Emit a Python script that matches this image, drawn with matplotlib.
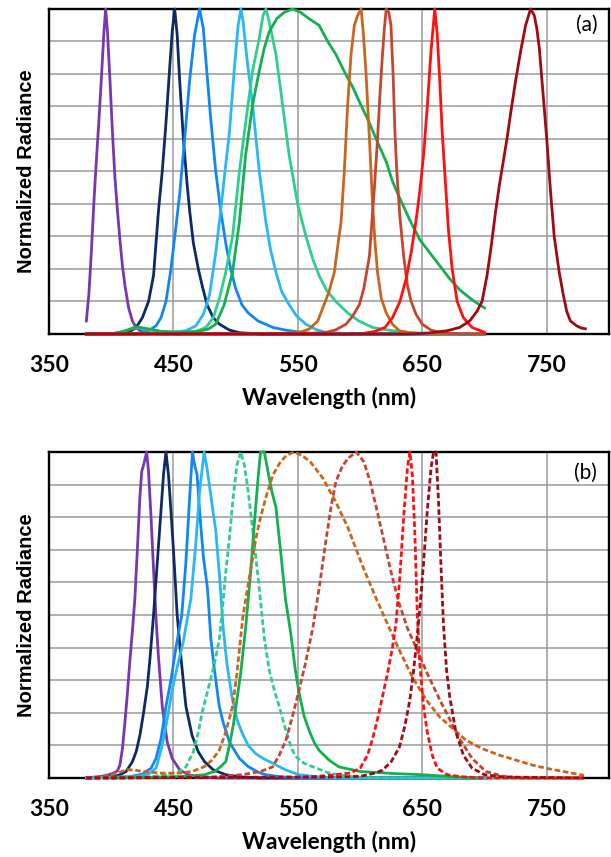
import matplotlib
matplotlib.use("Agg")
import matplotlib.pyplot as plt
import numpy as np

plt.rcParams['font.family'] = ['Lato', 'DejaVu Sans']

# ---------------------------------------------------------
# (a) LED spectra, solid lines  -- wavelength (nm), normalized radiance
# ---------------------------------------------------------
wl_a_violet = [380, 382, 384, 386, 388, 390, 392, 394, 395.5, 397, 399, 401, 403, 405, 407, 409, 411, 414, 417, 420, 424, 430, 440, 700]
r_a_violet = [0.04, 0.12, 0.25, 0.40, 0.53, 0.65, 0.78, 0.92, 1.0, 0.93, 0.78, 0.62, 0.48, 0.38, 0.29, 0.21, 0.15, 0.08, 0.04, 0.02, 0.008, 0.003, 0.0, 0.0]

wl_a_navy = [380, 400, 410, 416, 420, 425, 430, 434, 438, 441, 444, 447, 449, 451, 453, 455, 458, 461, 463, 466, 470, 473, 477, 482, 487, 495, 503, 520, 700]
r_a_navy = [0.0, 0.0, 0.005, 0.01, 0.02, 0.05, 0.1, 0.18, 0.38, 0.5, 0.65, 0.82, 0.93, 1.0, 0.92, 0.78, 0.6, 0.46, 0.38, 0.28, 0.2, 0.15, 0.09, 0.05, 0.03, 0.012, 0.004, 0.0, 0.0]

wl_a_blue = [380, 420, 430, 436, 440, 444, 448, 452, 455, 459, 463, 467, 471, 474, 477, 480, 484, 488, 492, 496, 500, 505, 510, 518, 530, 540, 551, 565, 700]
r_a_blue = [0.0, 0.0, 0.01, 0.025, 0.05, 0.1, 0.2, 0.33, 0.43, 0.6, 0.78, 0.92, 1.0, 0.94, 0.8, 0.66, 0.5, 0.38, 0.28, 0.2, 0.14, 0.09, 0.065, 0.04, 0.02, 0.012, 0.006, 0.0, 0.0]

wl_a_sky = [380, 445, 460, 468, 474, 479, 484, 488, 492, 495, 498.8, 502, 504.2, 506, 509, 513.6, 519, 524.3, 528, 532.4, 537, 543, 549, 556.5, 565, 572.6, 590, 700]
r_a_sky = [0.0, 0.003, 0.01, 0.025, 0.06, 0.12, 0.25, 0.38, 0.52, 0.62, 0.81, 0.95, 1.0, 0.96, 0.85, 0.705, 0.5, 0.345, 0.26, 0.19, 0.13, 0.09, 0.055, 0.03, 0.013, 0.005, 0.0, 0.0]

wl_a_teal = [400, 410, 420, 428, 440, 455, 468, 476, 482, 487, 492, 497.5, 503, 508, 513.6, 519, 522, 524.3, 527, 532.4, 537.7, 543, 549.8, 556.5, 562, 567, 573, 580.5, 590, 599, 610, 626, 645, 670, 700]
r_a_teal = [0.0, 0.008, 0.02, 0.015, 0.007, 0.005, 0.008, 0.02, 0.05, 0.11, 0.19, 0.3, 0.5, 0.65, 0.81, 0.91, 0.98, 1.0, 0.96, 0.86, 0.705, 0.55, 0.4, 0.3, 0.23, 0.18, 0.135, 0.1, 0.065, 0.04, 0.02, 0.01, 0.003, 0.0, 0.0]

wl_a_green = [400, 410, 420, 428, 440, 455, 470, 478, 484, 490.8, 497.5, 503, 508, 513.6, 519, 523, 527, 533, 539, 545.7, 552, 559, 567, 574, 580.6, 587, 594, 600, 607.4, 614, 621, 626, 631.6, 640, 648, 656, 664, 672, 680, 690, 700]
r_a_green = [0.0, 0.008, 0.022, 0.017, 0.008, 0.005, 0.008, 0.015, 0.03, 0.09, 0.19, 0.345, 0.55, 0.705, 0.81, 0.88, 0.93, 0.97, 0.99, 1.0, 0.99, 0.97, 0.95, 0.9, 0.86, 0.81, 0.76, 0.71, 0.65, 0.59, 0.53, 0.47, 0.42, 0.35, 0.29, 0.25, 0.21, 0.17, 0.136, 0.105, 0.08]

wl_a_orange = [380, 540, 552, 559, 566, 571, 575, 579.3, 582, 584.7, 587.3, 590, 592.7, 595.4, 598, 600.8, 602.5, 604.8, 607.5, 610, 612, 614, 617, 621, 626, 631.6, 640, 660, 700]
r_a_orange = [0.0, 0.002, 0.006, 0.015, 0.04, 0.09, 0.13, 0.19, 0.27, 0.345, 0.5, 0.705, 0.86, 0.95, 0.98, 1.0, 0.93, 0.8, 0.6, 0.4, 0.28, 0.19, 0.11, 0.065, 0.03, 0.01, 0.003, 0.0, 0.0]

wl_a_brick = [380, 560, 572.6, 580, 588.7, 594, 599.4, 603, 607.5, 611.5, 614, 616, 618, 619.5, 621, 623, 624.8, 626.5, 628, 629.5, 632, 635, 638, 641, 645, 650, 657, 665, 680, 700]
r_a_brick = [0.0, 0.002, 0.005, 0.012, 0.03, 0.055, 0.09, 0.14, 0.24, 0.45, 0.6, 0.74, 0.86, 0.94, 1.0, 0.99, 0.95, 0.8, 0.62, 0.5, 0.36, 0.24, 0.15, 0.1, 0.06, 0.03, 0.012, 0.004, 0.0, 0.0]

wl_a_red = [380, 600, 612, 620, 626, 632, 637, 641, 645, 648, 651, 654, 657, 660, 662, 664, 666, 668, 671, 674, 678, 683, 690, 700]
r_a_red = [0.0, 0.0, 0.008, 0.02, 0.05, 0.1, 0.17, 0.25, 0.35, 0.44, 0.55, 0.7, 0.87, 1.0, 0.92, 0.78, 0.62, 0.5, 0.32, 0.2, 0.1, 0.05, 0.02, 0.005]

wl_a_deepred = [380, 640, 655, 670, 680, 688, 694, 698, 702, 705, 709, 712, 715, 718, 721, 725, 729, 733, 737, 740, 742, 744, 747, 750, 753, 756, 760, 763, 766, 769, 774, 778, 781]
r_a_deepred = [0.0, 0.0, 0.003, 0.01, 0.02, 0.04, 0.07, 0.1, 0.18, 0.26, 0.38, 0.46, 0.53, 0.6, 0.68, 0.78, 0.87, 0.95, 1.0, 0.98, 0.94, 0.88, 0.74, 0.6, 0.44, 0.3, 0.19, 0.126, 0.07, 0.04, 0.025, 0.018, 0.016]

# ---------------------------------------------------------
# (b) second set: LEDs solid, lamps dashed
# ---------------------------------------------------------
wl_b_violet = [380, 392, 398, 402, 405, 407, 409, 411, 413, 415, 417, 419, 421, 423, 424.5, 426, 428.5, 430, 432, 434, 436, 438, 441, 445, 449, 455, 462, 470, 485, 700]
r_b_violet = [0.0, 0.005, 0.01, 0.015, 0.022, 0.04, 0.09, 0.17, 0.26, 0.36, 0.45, 0.55, 0.7, 0.86, 0.94, 0.96, 1.0, 0.94, 0.8, 0.64, 0.49, 0.37, 0.22, 0.11, 0.06, 0.025, 0.01, 0.004, 0.0, 0.0]

wl_b_navy = [380, 400, 407, 412, 417, 420, 423, 426, 429, 431, 434, 437, 440, 442, 444, 446, 448, 450, 453, 456, 460, 465, 470, 475, 482, 492, 505, 520, 700]
r_b_navy = [0.0, 0.003, 0.01, 0.02, 0.05, 0.08, 0.13, 0.2, 0.28, 0.36, 0.5, 0.66, 0.82, 0.93, 1.0, 0.93, 0.82, 0.7, 0.5, 0.37, 0.22, 0.13, 0.08, 0.05, 0.025, 0.01, 0.003, 0.0, 0.0]

wl_b_blue = [380, 415, 425, 432, 436, 440, 444, 448, 452, 456.7, 460, 463, 465.3, 467, 469, 471, 474, 477.4, 480, 483, 486.8, 490, 495, 503, 510, 518, 524, 535, 550, 700]
r_b_blue = [0.0, 0.004, 0.012, 0.03, 0.06, 0.12, 0.22, 0.3, 0.4, 0.5, 0.66, 0.86, 1.0, 0.96, 0.93, 0.82, 0.68, 0.58, 0.43, 0.33, 0.22, 0.17, 0.11, 0.06, 0.035, 0.018, 0.01, 0.004, 0.0, 0.0]

wl_b_sky = [380, 420, 430, 436, 441, 445, 449, 453, 458, 464, 468, 471, 474.7, 477, 481, 484, 487, 490, 493, 497, 501, 505, 510, 516, 522, 530, 540, 551, 565, 580, 700]
r_b_sky = [0.0, 0.004, 0.012, 0.03, 0.1, 0.18, 0.27, 0.34, 0.42, 0.55, 0.72, 0.88, 1.0, 0.95, 0.84, 0.76, 0.62, 0.46, 0.35, 0.25, 0.18, 0.14, 0.1, 0.075, 0.06, 0.045, 0.025, 0.01, 0.004, 0.0, 0.0]

wl_b_teal = [380, 430, 445, 455, 460, 466, 470, 473, 477, 481, 484, 487, 489.4, 492, 494.8, 498, 501, 504, 507, 510, 512.2, 515, 519, 523, 527, 531, 535, 540, 545, 548.5, 555, 565, 575, 590, 610, 780]
r_b_teal = [0.0, 0.003, 0.01, 0.02, 0.034, 0.08, 0.14, 0.2, 0.26, 0.32, 0.37, 0.43, 0.52, 0.63, 0.73, 0.86, 0.96, 1.0, 0.96, 0.88, 0.81, 0.72, 0.58, 0.43, 0.33, 0.27, 0.22, 0.15, 0.09, 0.065, 0.045, 0.03, 0.015, 0.005, 0.0, 0.0]

wl_b_green = [400, 440, 460, 475, 483, 488, 492, 495, 498, 501, 504, 508, 512, 515, 518, 520, 523, 526, 529, 532.4, 536, 540, 544.4, 548, 551, 555, 559, 563, 567, 575, 583, 600, 625, 650, 670, 693]
r_b_green = [0.0, 0.003, 0.005, 0.01, 0.02, 0.035, 0.05, 0.1, 0.16, 0.24, 0.32, 0.46, 0.63, 0.78, 0.92, 1.0, 1.0, 0.94, 0.88, 0.83, 0.7, 0.55, 0.44, 0.33, 0.26, 0.19, 0.146, 0.11, 0.085, 0.055, 0.034, 0.02, 0.014, 0.01, 0.005, 0.0]

wl_b_amber = [380, 395, 405, 412, 418, 425, 440, 455, 465, 475, 481, 486.8, 492, 497.5, 501, 504, 506, 509.5, 513, 516, 520, 525, 530, 536, 541, 547, 553, 560, 570, 580, 590, 602, 613, 623.5, 633, 642, 653, 664, 675, 685, 698, 712, 725, 739, 752, 766, 780]
r_b_amber = [0.0, 0.005, 0.015, 0.025, 0.025, 0.02, 0.015, 0.015, 0.02, 0.035, 0.055, 0.085, 0.14, 0.22, 0.32, 0.43, 0.5, 0.58, 0.66, 0.73, 0.8, 0.87, 0.93, 0.97, 0.99, 1.0, 0.99, 0.97, 0.92, 0.85, 0.77, 0.65, 0.55, 0.46, 0.38, 0.31, 0.24, 0.187, 0.15, 0.116, 0.09, 0.07, 0.055, 0.039, 0.028, 0.018, 0.008]

wl_b_brick = [380, 480, 505, 520, 529.7, 535, 540.4, 545, 549.7, 556, 562, 567, 572.6, 577, 580.6, 585, 590, 597, 603, 608, 613, 619, 625, 631, 638, 645, 654, 664, 672, 680, 690, 701, 715, 730, 780]
r_b_brick = [0.0, 0.003, 0.01, 0.02, 0.034, 0.07, 0.116, 0.18, 0.25, 0.35, 0.46, 0.58, 0.73, 0.84, 0.91, 0.95, 0.98, 1.0, 0.97, 0.91, 0.83, 0.73, 0.63, 0.54, 0.46, 0.4, 0.32, 0.24, 0.18, 0.12, 0.06, 0.02, 0.005, 0.0, 0.0]

wl_b_red = [380, 560, 580, 592, 600, 606, 610, 614, 618, 622, 626, 629, 632, 635, 638, 640, 642, 644, 646, 648, 651, 654, 658, 662, 670, 680, 700, 780]
r_b_red = [0.0, 0.003, 0.01, 0.015, 0.03, 0.07, 0.12, 0.18, 0.25, 0.32, 0.4, 0.48, 0.62, 0.8, 0.95, 1.0, 0.93, 0.75, 0.5, 0.35, 0.22, 0.14, 0.07, 0.03, 0.01, 0.004, 0.0, 0.0]

wl_b_deepred = [380, 580, 600, 612, 618, 625, 631.6, 636, 640, 643, 646, 648, 651, 654, 657, 659, 661, 663, 665, 667, 669.5, 672, 677, 683, 690, 700, 715, 780]
r_b_deepred = [0.0, 0.003, 0.005, 0.015, 0.024, 0.05, 0.095, 0.16, 0.24, 0.33, 0.44, 0.52, 0.66, 0.82, 0.95, 1.0, 1.0, 0.85, 0.65, 0.47, 0.33, 0.25, 0.14, 0.07, 0.03, 0.01, 0.003, 0.0]

# colours per source
c_violet = '#7a35b0'
c_navy = '#0b2a66'
c_blue = '#1187f5'
c_sky = '#27b8f5'
c_teal = '#2ccf8e'
c_green = '#12b04f'
c_orange = '#c9661c'
c_brick = '#c4462f'
c_red = '#ff1010'
c_deepred = '#a00a10'

series_a = [
    (wl_a_violet, r_a_violet, c_violet, '-'),
    (wl_a_navy, r_a_navy, c_navy, '-'),
    (wl_a_blue, r_a_blue, c_blue, '-'),
    (wl_a_sky, r_a_sky, c_sky, '-'),
    (wl_a_teal, r_a_teal, c_teal, '-'),
    (wl_a_green, r_a_green, c_green, '-'),
    (wl_a_orange, r_a_orange, c_orange, '-'),
    (wl_a_brick, r_a_brick, c_brick, '-'),
    (wl_a_red, r_a_red, c_red, '-'),
    (wl_a_deepred, r_a_deepred, c_deepred, '-'),
]

dash = (0, (2, 1))
series_b = [
    (wl_b_violet, r_b_violet, c_violet, '-'),
    (wl_b_navy, r_b_navy, c_navy, '-'),
    (wl_b_blue, r_b_blue, c_blue, '-'),
    (wl_b_sky, r_b_sky, c_sky, '-'),
    (wl_b_teal, r_b_teal, c_teal, dash),
    (wl_b_green, r_b_green, c_green, '-'),
    (wl_b_amber, r_b_amber, c_orange, dash),
    (wl_b_brick, r_b_brick, c_brick, dash),
    (wl_b_red, r_b_red, c_red, dash),
    (wl_b_deepred, r_b_deepred, c_deepred, dash),
]

fig = plt.figure(figsize=(6.11, 8.57), dpi=100)
ax_a = fig.add_axes([0.0802, 0.6103, 0.9165, 0.3792])
ax_b = fig.add_axes([0.0802, 0.0922, 0.9165, 0.3804])


def style_panel(ax, tag, tag_y):
    ax.set_xlim(350, 800)
    ax.set_ylim(0, 1.0)
    ax.set_xticks(np.arange(350, 800, 100))
    ax.set_yticks(np.arange(0, 1.01, 0.1))
    ax.set_yticklabels([])
    ax.tick_params(axis='both', length=0)
    ax.tick_params(axis='x', pad=15, labelsize=16.5)
    for lab in ax.get_xticklabels():
        lab.set_fontweight('bold')
    ax.grid(True, color='#9a9a9a', linewidth=1.1)
    ax.set_axisbelow(True)
    for sp in ax.spines.values():
        sp.set_linewidth(1.7)
        sp.set_color('black')
    ax.set_xlabel('Wavelength (nm)', fontsize=16.5, fontweight='bold', labelpad=8)
    ax.set_ylabel('Normalized Radiance', fontsize=14.5, fontweight='bold', labelpad=6,
                  family=['Liberation Sans', 'DejaVu Sans'])
    ax.text(0.979, tag_y, tag, transform=ax.transAxes, ha='right', va='center', fontsize=15)


for ax, series in [(ax_a, series_a), (ax_b, series_b)]:
    for wl, r, col, ls in series:
        ax.plot(wl, r, color=col, linestyle=ls, linewidth=2.0, clip_on=False, zorder=3)

style_panel(ax_a, '(a)', 0.95)
style_panel(ax_b, '(b)', 0.935)

fig.savefig('out.png', dpi=100)
